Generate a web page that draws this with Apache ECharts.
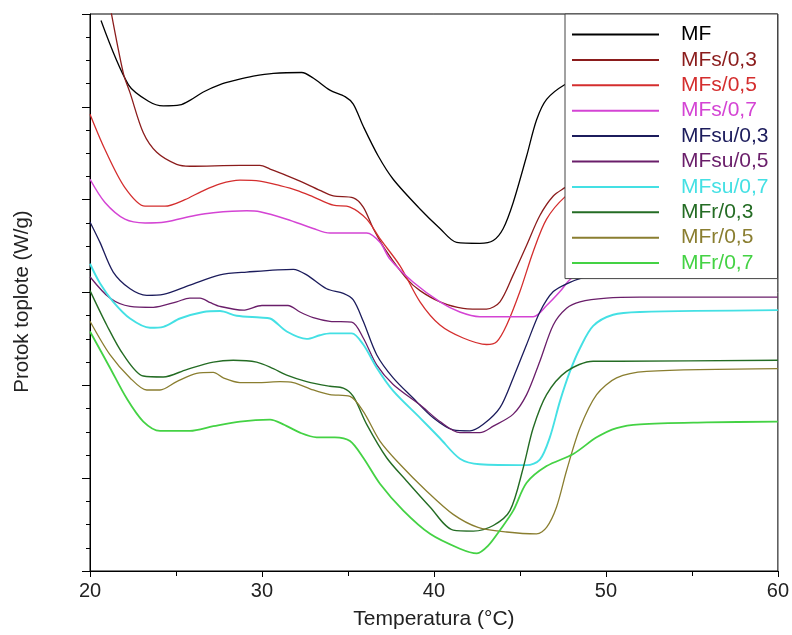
<!DOCTYPE html>
<html>
<head>
<meta charset="utf-8">
<script src="https://cdn.jsdelivr.net/npm/echarts@6/dist/echarts.min.js"></script>
<style>
  html, body { margin: 0; padding: 0; background: #fff; }
  #chart { width: 792px; height: 635px; }
</style>
</head>
<body>
<div id="chart"></div>
<script>
// DSC heat-flow curves, [temperature °C, heat flow (W/g, offset scale)]
const seriesNames = ['MF', 'MFs/0,3', 'MFs/0,5', 'MFs/0,7', 'MFsu/0,3', 'MFsu/0,5', 'MFsu/0,7', 'MFr/0,3', 'MFr/0,5', 'MFr/0,7'];
const xTicks = [20, 30, 40, 50, 60];

const mf = [[20.64,5.93],[22.23,5.24],[23.40,5.06],[24.26,5.01],[25.23,5.02],[25.81,5.07],[26.59,5.16],[27.56,5.24],[28.53,5.29],[29.49,5.33],[30.66,5.36],[32.31,5.37],[32.98,5.31],[33.95,5.18],[34.83,5.11],[35.31,5.03],[35.89,4.79],[36.76,4.47],[37.63,4.22],[39.19,3.90],[40.35,3.69],[41.32,3.54],[42.67,3.53],[43.45,3.56],[44.03,3.69],[44.61,3.97],[45.39,4.47],[45.97,4.86],[46.55,5.08],[47.62,5.24],[49,5.35],[52,5.40],[60,5.42]];
const mfs03 = [[21.1,6.15],[21.94,5.36],[22.33,5.15],[23.10,4.72],[23.88,4.51],[25.04,4.38],[25.81,4.36],[28.72,4.37],[29.88,4.37],[30.47,4.33],[31.44,4.26],[32.21,4.20],[33.37,4.10],[34.15,4.04],[35.31,4.02],[35.89,3.92],[36.47,3.69],[37.25,3.44],[38.41,3.15],[39.19,3.02],[40.35,2.90],[41.70,2.83],[43.06,2.82],[43.84,2.90],[44.61,3.19],[45.39,3.51],[46.16,3.83],[46.94,4.04],[47.62,4.13],[49,4.30],[52,4.40],[60,4.42]];
const mfs05 = [[20,4.92],[20.87,4.54],[22.03,4.13],[23.20,3.93],[24.36,3.93],[25.52,4.00],[26.50,4.09],[27.56,4.17],[28.72,4.21],[29.88,4.20],[31.05,4.15],[32.02,4.10],[32.98,4.03],[34.15,3.94],[35.12,3.92],[36.09,3.79],[36.86,3.58],[38.02,3.29],[39.19,2.90],[40.35,2.65],[41.70,2.51],[43.06,2.44],[43.65,2.47],[44.23,2.65],[45.0,3.01],[45.77,3.44],[46.55,3.79],[47.62,4.03],[49,4.20],[52,4.30],[60,4.33]];
const mfs07 = [[20,4.22],[20.87,3.97],[22.03,3.79],[23.20,3.75],[24.36,3.76],[26.10,3.83],[27.17,3.86],[29.11,3.88],[29.88,3.87],[31.44,3.79],[32.98,3.69],[33.95,3.64],[36.09,3.64],[36.86,3.54],[37.44,3.36],[38.80,3.11],[40.35,2.90],[41.51,2.79],[42.67,2.74],[45.77,2.74],[46.55,2.86],[47.33,3.01],[47.91,3.14],[49,3.28],[52,3.33],[60,3.35]];
const mfsu03 = [[20,3.76],[20.58,3.54],[21.35,3.22],[22.33,3.04],[23.30,2.97],[24.26,2.98],[25.81,3.08],[27.56,3.19],[29.11,3.22],[31.82,3.25],[32.60,3.19],[33.76,3.04],[34.73,2.99],[35.31,2.92],[35.89,2.69],[36.67,2.33],[37.63,2.08],[38.80,1.86],[39.96,1.65],[41.12,1.52],[42.09,1.51],[42.87,1.58],[43.84,1.76],[44.61,2.08],[45.39,2.44],[46.16,2.79],[46.94,3.01],[47.91,3.11],[48.68,3.16],[50,3.22],[53,3.25],[60,3.26]];
const mfsu05 = [[20,3.17],[21.16,2.94],[22.33,2.85],[23.68,2.84],[25.04,2.90],[25.80,2.94],[26.40,2.94],[27.00,2.89],[27.56,2.85],[28.91,2.81],[30.0,2.86],[31.51,2.86],[32.21,2.79],[32.98,2.73],[33.95,2.69],[35.22,2.68],[35.89,2.51],[36.67,2.22],[37.63,2.01],[39.19,1.79],[40.35,1.61],[41.51,1.49],[42.67,1.49],[43.45,1.56],[44.61,1.69],[45.39,1.90],[46.16,2.26],[46.94,2.65],[47.71,2.83],[48.49,2.90],[50.03,2.94],[51.98,2.95],[60,2.95]];
const mfsu07 = [[20,3.31],[20.58,3.10],[21.35,2.90],[22.33,2.72],[23.49,2.62],[24.26,2.63],[25.23,2.72],[26.59,2.79],[27.56,2.80],[28.53,2.75],[29.88,2.73],[30.47,2.72],[31.44,2.58],[32.60,2.50],[33.37,2.54],[33.95,2.56],[35.22,2.56],[35.89,2.44],[36.67,2.19],[37.63,1.94],[39.19,1.65],[40.35,1.43],[41.51,1.21],[42.67,1.15],[45.39,1.14],[46.16,1.20],[46.74,1.44],[47.33,1.83],[47.91,2.15],[48.49,2.40],[49.26,2.64],[50.42,2.76],[51.98,2.79],[60,2.81]];
const mfr03 = [[20,3.02],[20.97,2.65],[21.94,2.33],[23.10,2.10],[24.26,2.09],[25.62,2.17],[27.17,2.25],[28.33,2.27],[29.69,2.25],[30.66,2.18],[31.44,2.11],[32.60,2.04],[33.95,1.99],[34.73,1.97],[35.31,1.88],[36.09,1.58],[37.25,1.22],[38.41,0.97],[39.77,0.69],[41.12,0.44],[42.29,0.43],[43.45,0.49],[44.42,0.65],[45.19,1.11],[45.77,1.54],[46.55,1.90],[47.71,2.15],[49.26,2.26],[50.81,2.26],[60,2.27]];
const mfr05 = [[20,2.69],[21.16,2.33],[22.33,2.08],[23.30,1.95],[24.07,1.95],[25.04,2.04],[26.20,2.13],[27.17,2.14],[27.75,2.08],[28.72,2.03],[29.88,2.03],[31.05,2.04],[31.82,2.03],[32.98,1.95],[33.95,1.90],[35.12,1.88],[35.89,1.72],[36.86,1.40],[38.02,1.15],[39.58,0.86],[41.12,0.61],[42.56,0.47],[44.23,0.42],[45.97,0.40],[46.55,0.47],[47.13,0.69],[47.71,1.08],[48.49,1.54],[49.46,1.90],[50.62,2.08],[52.37,2.15],[60,2.18]];
const mfr07 = [[20,2.58],[21.16,2.19],[22.13,1.86],[23.10,1.61],[24.07,1.51],[25.81,1.51],[27.17,1.56],[28.72,1.61],[30.47,1.63],[31.24,1.58],[32.21,1.49],[33.18,1.44],[34.24,1.44],[35.12,1.40],[35.89,1.22],[36.86,0.94],[38.22,0.65],[39.77,0.40],[41.51,0.24],[42.50,0.19],[43.14,0.27],[43.84,0.44],[44.61,0.65],[45.39,0.95],[46.55,1.13],[48.10,1.26],[49.46,1.44],[50.62,1.54],[51.98,1.58],[55.85,1.60],[60,1.61]];

const curves = [mf, mfs03, mfs05, mfs07, mfsu03, mfsu05, mfsu07, mfr03, mfr05, mfr07];
const colors = ['#000000', '#8b1c1c', '#d42e2e', '#d444d4', '#1c1c5c', '#6a1e6a', '#44e0e4', '#246c24', '#8a7e30', '#44d244'];
const widths = [1.3, 1.3, 1.3, 1.5, 1.3, 1.3, 1.9, 1.4, 1.3, 1.8];

const FONT = '"Liberation Sans", Arial, sans-serif';
const chart = echarts.init(document.getElementById('chart'), null, { renderer: 'canvas' });

chart.setOption({
  animation: false,
  backgroundColor: '#ffffff',
  grid: { left: 90, right: 14, top: 14, bottom: 61, show: true, borderColor: '#000', borderWidth: 1 },
  xAxis: {
    type: 'value', min: xTicks[0], max: xTicks[xTicks.length - 1], interval: 10,
    name: 'Temperatura (°C)', nameLocation: 'middle', nameGap: 38,
    nameTextStyle: { fontFamily: FONT, fontSize: 21, color: '#222' },
    axisLine: { onZero: false, lineStyle: { color: '#000', width: 1 } },
    axisTick: { show: true, inside: false, length: 6, lineStyle: { color: '#000' } },
    minorTick: { show: true, splitNumber: 2, length: 5, lineStyle: { color: '#000' } },
    axisLabel: { fontFamily: FONT, fontSize: 20, color: '#222', margin: 10 },
    splitLine: { show: false }
  },
  yAxis: {
    type: 'value', min: 0, max: 6, interval: 1,
    name: 'Protok toplote (W/g)', nameLocation: 'middle', nameGap: 57,
    nameTextStyle: { fontFamily: FONT, fontSize: 20.5, color: '#222', padding: [0, 18, 0, 0] },
    axisLine: { onZero: false, lineStyle: { color: '#000', width: 1 } },
    axisTick: { show: true, inside: false, length: 8, lineStyle: { color: '#000' } },
    minorTick: { show: true, splitNumber: 4, length: 4, lineStyle: { color: '#000' } },
    axisLabel: { show: false },
    splitLine: { show: false }
  },
  legend: {
    orient: 'vertical', left: 565, top: 14,
    padding: [10, 9, 5, 7],
    itemWidth: 87, itemHeight: 2, itemGap: 4.4, icon: 'rect',
    backgroundColor: '#ffffff', borderColor: '#444', borderWidth: 1, borderRadius: 0,
    textStyle: { fontFamily: FONT, fontSize: 21, lineHeight: 21, padding: [0, 0, 0, 17] },
    data: seriesNames.map((n, i) => ({ name: n, textStyle: { color: colors[i] } }))
  },
  series: seriesNames.map((n, i) => ({
    name: n, type: 'line', data: curves[i], symbol: 'none', smooth: 0.3, clip: true,
    lineStyle: { color: colors[i], width: widths[i] },
    itemStyle: { color: colors[i] }
  }))
});
</script>
</body>
</html>
